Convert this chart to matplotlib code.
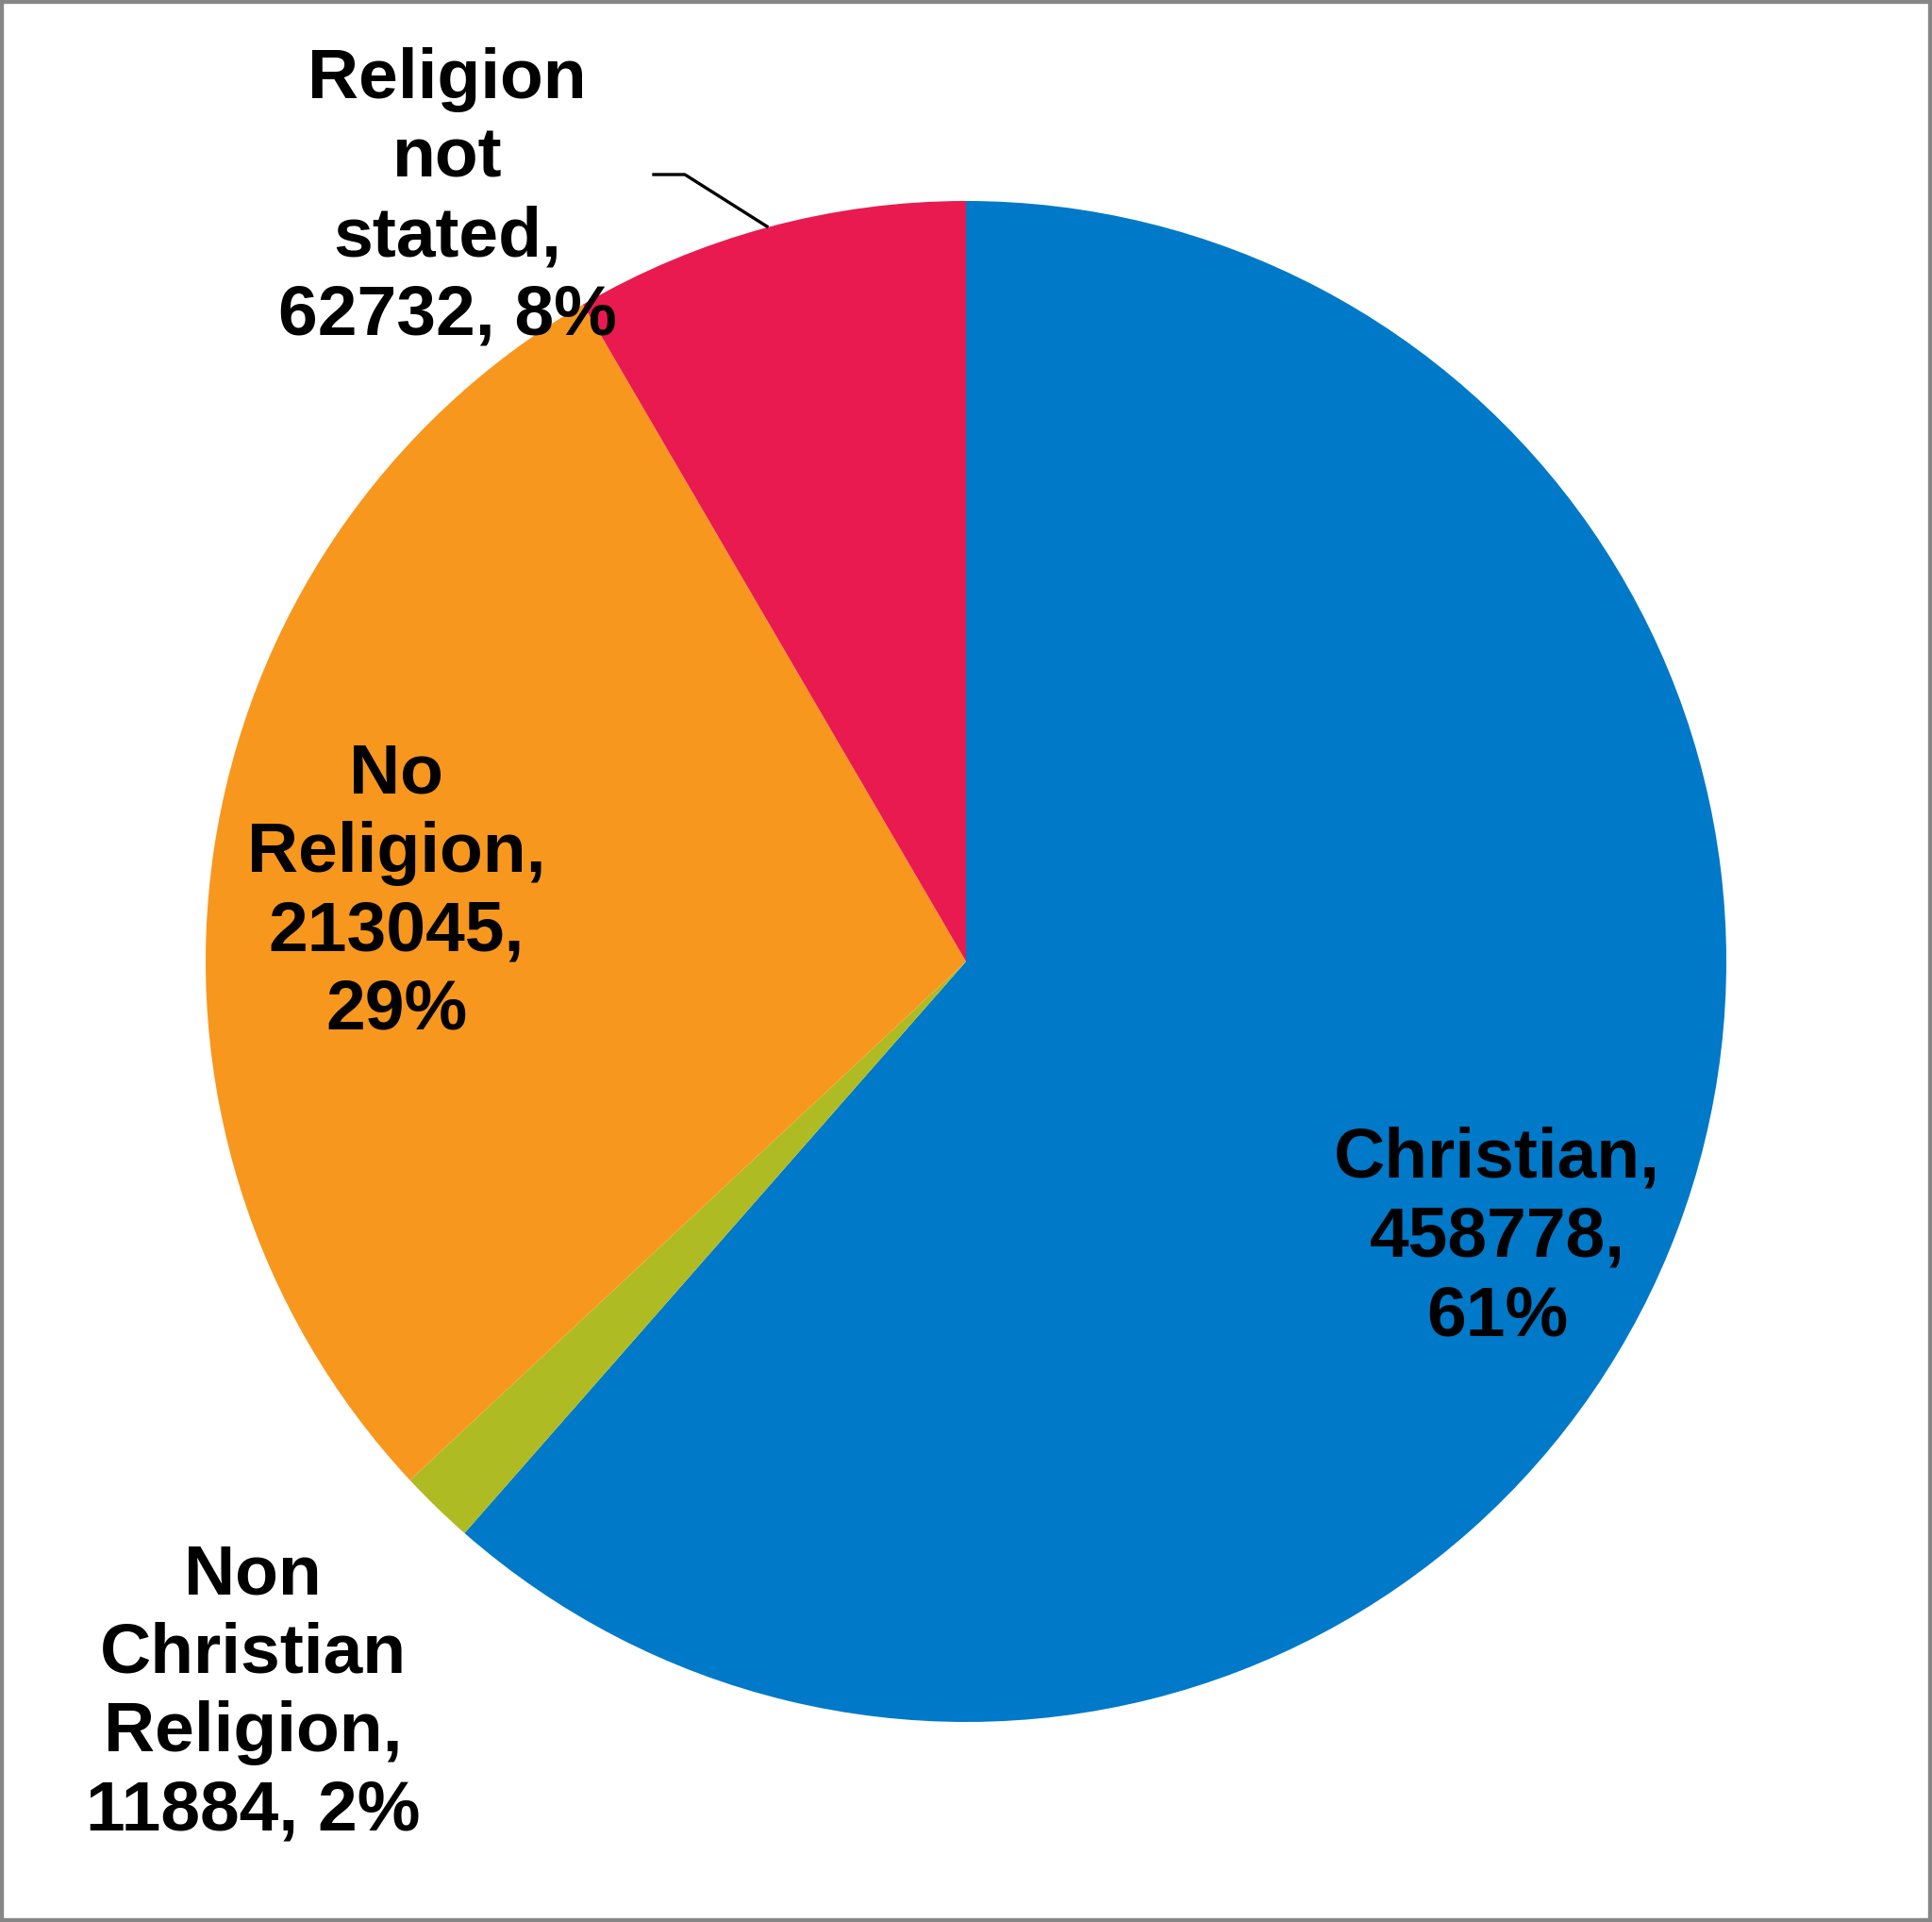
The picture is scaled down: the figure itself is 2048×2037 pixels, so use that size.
import matplotlib.pyplot as plt
from matplotlib.patches import Rectangle

W, H = 2048, 2037

# data
names = ["Christian", "Non Christian Religion", "No Religion", "Religion not stated"]
counts = [458778, 11884, 213045, 62732]
pcts = ["61%", "2%", "29%", "8%"]
labels = [
    "Christian,\n458778,\n61%",
    "Non\nChristian\nReligion,\n11884, 2%",
    "No\nReligion,\n213045,\n29%",
    "Religion\nnot\nstated,\n62732, 8%",
]
colors = ["#0079C8", "#AEBB22", "#F7971E", "#E91A4F"]

# label centres in picture pixels (x, y from top)
label_pos = [(1587, 1312), (268, 1795), (420, 946), (474, 210)]

plt.rcParams["font.family"] = ["Liberation Sans", "DejaVu Sans"]

fig = plt.figure(figsize=(W / 100, H / 100), dpi=100)
ax = fig.add_axes([0, 0, 1, 1])

ax.pie(
    counts,
    colors=colors,
    startangle=90,
    counterclock=False,
    center=(1024, H - 1019),
    radius=806,
    wedgeprops=dict(linewidth=0),
)

for text, (x, y) in zip(labels, label_pos):
    ax.text(x, H - y, text, ha="center", va="center", fontsize=54,
            fontweight="bold", linespacing=1.27, color="black")

# leader line for the small top label
ax.plot([693, 726, 813], [H - 185, H - 185, H - 240], color="black", lw=2.4)

ax.set_xlim(0, W)
ax.set_ylim(0, H)
ax.set_aspect("auto")
ax.axis("off")

fig.patches.append(Rectangle((0, 0), 1, 1, transform=fig.transFigure,
                             fill=False, edgecolor="#868686", linewidth=6))

fig.savefig("out.png", dpi=100, facecolor="white")
